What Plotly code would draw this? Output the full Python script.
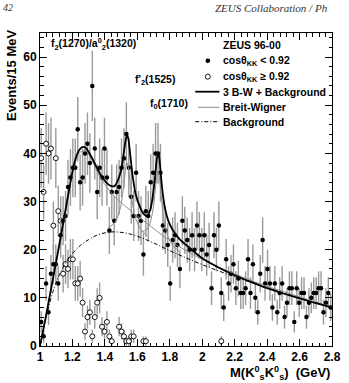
import numpy as np
import plotly.graph_objects as go

# ---------------- data ----------------
BIN_LO = 1.0
BIN_W = 0.015

# cos(theta_KK) < 0.92 : events per 15 MeV bin, bins starting at 1.0 GeV
filled_y = [5, 2, 13, 7, 15, 17, 17, 13, 23, 26,
            27, 33, 35, 37, 37, 45, 34, 35, 40, 42,
            38, 54, 41, 32, 37, 35, 41, 35, 24, 32,
            26, 32, 33, 37, 39, 44, 37, 31, 27, 36,
            27, 26, 19, 28, 27, 34, 36, 40, 40, 36,
            25, 24, 21, 13, 22, 23, 21, 16, 26, 24,
            22, 20, 23, 20, 25, 23, 20, 23, 19, 21,
            12, 23, 20, 25, 11, 8, 18, 13, 15, 17,
            12, 14, 11, 11, 12, 18, 11, 17, 10, 7,
            15, 22, 13, 16, 13, 8, 13, 7, 11, 13,
            6, 9, 12, 12, 5, 12, 9, 11, 11, 6,
            9, 10, 11, 11, 12, 12, 7, 9, 11, 8]
filled_err = [2.2, 1.4, 3.6, 2.6, 3.9, 4.1, 4.1, 3.6, 4.8, 5.1,
              5.2, 5.7, 5.9, 6.1, 6.1, 6.7, 5.8, 5.9, 6.3, 6.5,
              6.2, 7.3, 6.4, 5.7, 6.1, 5.9, 6.4, 5.9, 4.9, 5.7,
              5.1, 5.7, 5.7, 6.1, 6.2, 6.6, 6.1, 5.6, 5.2, 6.0,
              5.2, 5.1, 4.4, 5.3, 5.2, 5.8, 6.0, 6.3, 6.3, 6.0,
              5.0, 4.9, 4.6, 3.6, 4.7, 4.8, 4.6, 4.0, 5.1, 4.9,
              4.7, 4.5, 4.8, 4.5, 5.0, 4.8, 4.5, 4.8, 4.4, 4.6,
              3.5, 4.8, 4.5, 5.0, 3.3, 2.8, 4.2, 3.6, 3.9, 4.1,
              3.5, 3.7, 3.3, 3.3, 3.5, 4.2, 3.3, 4.1, 3.2, 2.6,
              3.9, 4.7, 3.6, 4.0, 3.6, 2.8, 3.6, 2.6, 3.3, 3.6,
              2.4, 3.0, 3.5, 3.5, 2.2, 3.5, 3.0, 3.3, 3.3, 2.4,
              3.0, 3.2, 3.3, 3.3, 3.5, 3.5, 2.6, 3.0, 3.3, 2.8]

# cos(theta_KK) >= 0.92 : non-empty bins only
open_x = [1.0075, 1.0225, 1.0375, 1.0525, 1.0675, 1.0825, 1.0975, 1.1125, 1.1275, 1.1425,
          1.1575, 1.1725, 1.1875, 1.2025, 1.2175, 1.2325, 1.2475, 1.2625, 1.2775, 1.2925,
          1.3075, 1.3225, 1.3375, 1.3525, 1.3675, 1.3825, 1.3975, 1.4125, 1.4275, 1.4425,
          1.4875, 1.5025, 1.5175, 1.5325, 1.5475, 1.5625, 1.5775, 1.6375, 1.6525, 2.1175]
open_y = [39, 32, 42, 40, 41, 25, 39, 28, 26, 15,
          17, 16, 18, 18, 13, 13, 14, 9, 3, 6,
          7, 2, 6, 9, 10, 4, 3, 5, 2, 1,
          4, 3, 2, 1, 1, 2, 2, 1, 1, 1]
open_err = [6.2, 5.7, 6.5, 6.3, 6.4, 5.0, 6.2, 5.3, 5.1, 3.9,
            4.1, 4.0, 4.2, 4.2, 3.6, 3.6, 3.7, 3.0, 1.7, 2.4,
            2.6, 1.4, 2.4, 3.0, 3.2, 2.0, 1.7, 2.2, 1.4, 1.0,
            2.0, 1.7, 1.4, 1.0, 1.0, 1.4, 1.4, 1.0, 1.0, 1.0]

# fit: 3 Breit-Wigner + background
total_x = [1.0, 1.02, 1.04, 1.06, 1.08, 1.10, 1.12, 1.14, 1.16, 1.18, 1.20, 1.22, 1.24, 1.26,
           1.28, 1.30, 1.32, 1.34, 1.36, 1.38, 1.40, 1.42, 1.44, 1.46, 1.48, 1.50, 1.51, 1.52,
           1.53, 1.537, 1.545, 1.555, 1.57, 1.59, 1.62, 1.64, 1.66, 1.68, 1.69, 1.70, 1.71,
           1.72, 1.728, 1.735, 1.745, 1.755, 1.77, 1.79, 1.82, 1.86, 1.90, 2.0, 2.1, 2.2,
           2.3, 2.4, 2.5, 2.6, 2.7, 2.8]
total_y = [0, 3.3, 6.8, 10.4, 14.0, 17.6, 21.3, 25.0, 28.8, 32.6, 36.2, 39.0, 40.6, 41.3,
           41.2, 40.3, 39.1, 37.7, 36.4, 35.2, 34.3, 33.6, 33.2, 33.2, 34.4, 36.5, 38.6, 41.0,
           43.2, 43.8, 43.0, 40.1, 35.6, 31.5, 28.6, 27.4, 27.0, 28.3, 29.9, 32.3, 35.4,
           38.8, 40.1, 39.2, 35.5, 32.1, 28.7, 26.1, 24.0, 22.2, 21.0, 18.2, 16.3, 14.7,
           13.3, 12.0, 10.9, 9.9, 8.9, 8.0]

bw1_x = [1.0, 1.04, 1.08, 1.12, 1.16, 1.20, 1.24, 1.28, 1.32, 1.36, 1.40, 1.44, 1.48, 1.52,
         1.56, 1.60, 1.65, 1.70, 1.75, 1.80, 1.85, 1.90, 2.0, 2.1, 2.2, 2.3, 2.4, 2.5, 2.6,
         2.7, 2.8]
bw1_y = [0, 6.7, 13.8, 20.7, 28.2, 35.8, 40.0, 40.6, 38.6, 35.7, 33.5, 31.8, 30.4, 29.2,
         28.1, 27.0, 25.7, 24.4, 23.1, 21.9, 20.8, 19.8, 18.0, 16.4, 15.0, 13.6, 12.4, 11.3,
         10.2, 9.1, 8.1]

bw2_x = [1.42, 1.46, 1.48, 1.50, 1.51, 1.52, 1.53, 1.537, 1.545, 1.555, 1.57, 1.59, 1.62, 1.66]
bw2_y = [24.5, 25.6, 26.9, 29.4, 31.7, 34.5, 37.3, 38.0, 37.0, 34.0, 29.7, 26.5, 24.3, 22.9]

bw3_x = [1.62, 1.66, 1.68, 1.69, 1.70, 1.71, 1.72, 1.728, 1.735, 1.745, 1.755, 1.77, 1.79,
         1.82, 1.86]
bw3_y = [23.6, 24.3, 25.7, 27.1, 29.05, 32.1, 35.2, 36.35, 35.35, 32.0, 28.5, 25.1, 22.6,
         20.8, 19.6]

bg_x = [1.0, 1.02, 1.04, 1.06, 1.08, 1.10, 1.12, 1.15, 1.20, 1.25, 1.30, 1.35, 1.40, 1.45,
        1.50, 1.55, 1.60, 1.70, 1.80, 1.90, 2.0, 2.1, 2.2, 2.3, 2.4, 2.5, 2.6, 2.7, 2.8]
bg_y = [0, 3.5, 6.5, 9.0, 11.3, 13.2, 14.8, 16.8, 19.2, 20.9, 22.1, 23.0, 23.5, 23.7,
        23.6, 23.3, 22.8, 21.4, 19.8, 18.3, 16.9, 15.6, 14.4, 13.2, 12.1, 11.0, 10.0, 9.0, 8.0]

x_tickvals = [1, 1.2, 1.4, 1.6, 1.8, 2, 2.2, 2.4, 2.6, 2.8]
x_ticktext = ["1", "1.2", "1.4", "1.6", "1.8", "2", "2.2", "2.4", "2.6", "2.8"]
y_tickvals = [0, 10, 20, 30, 40, 50, 60]
y_ticktext = ["0", "10", "20", "30", "40", "50", "60"]

legend_entries = ["cosθ<sub>KK</sub> < 0.92", "cosθ<sub>KK</sub> ≥ 0.92",
                  "3 B-W + Background", "Breit-Wigner", "Background"]

# ---------------- figure ----------------
W, H = 349, 383
ML, MR, MT, MB = 40, 8, 33, 37
PW, PH = W - ML - MR, H - MT - MB
FONT = "Liberation Sans, Arial, sans-serif"
ERRC = "#9a9a9a"


def P(px, py):
    return (px - ML) / PW, (H - MB - py) / PH


filled_x = BIN_LO + BIN_W * (np.arange(len(filled_y)) + 0.5)

fig = go.Figure()

fig.add_trace(go.Scatter(
    x=open_x, y=open_y, mode="markers",
    error_y=dict(type="data", array=open_err, color=ERRC, thickness=1.4, width=0),
    marker=dict(symbol="circle", size=5, color="white", line=dict(color="black", width=0.9)),
    showlegend=False))

fig.add_trace(go.Scatter(
    x=filled_x, y=filled_y, mode="markers",
    error_y=dict(type="data", array=filled_err, color=ERRC, thickness=1.4, width=0),
    marker=dict(symbol="circle", size=4.5, color="black"),
    showlegend=False))

fig.add_trace(go.Scatter(x=bg_x, y=bg_y, mode="lines",
                         line=dict(color="black", width=1, dash="4px,2px,1px,2px", shape="spline"),
                         showlegend=False))
for bx, by in [(bw1_x, bw1_y), (bw2_x, bw2_y), (bw3_x, bw3_y)]:
    fig.add_trace(go.Scatter(x=bx, y=by, mode="lines",
                             line=dict(color="#8c8c8c", width=1, shape="spline", smoothing=0.7),
                             showlegend=False))
fig.add_trace(go.Scatter(x=total_x, y=total_y, mode="lines",
                         line=dict(color="black", width=1.8, shape="spline", smoothing=0.6),
                         showlegend=False))

annotations = []
shapes = []


def text(px, py, s, size=10.5, xanchor="left", bold=True, **kw):
    x, y = P(px, py)
    d = dict(x=x, y=y, xref="paper", yref="paper", text=s, showarrow=False,
             xanchor=xanchor, yanchor="middle",
             font=dict(family=FONT, size=size, color="black",
                       weight="bold" if bold else "normal"))
    d.update(kw)
    annotations.append(d)


# legend
text(227, 45, "ZEUS 96-00")
rows_py = [60.7, 76.7, 91.7, 107.3, 121.7]
for s, py in zip(legend_entries, rows_py):
    text(227, py, s)

cx, cy = P(213, rows_py[0])
shapes.append(dict(type="circle", xref="paper", yref="paper", xsizemode="pixel", ysizemode="pixel",
                   xanchor=cx, yanchor=cy, x0=-2.3, x1=2.3, y0=-2.3, y1=2.3,
                   fillcolor="black", line=dict(color="black", width=0)))
cx, cy = P(213, rows_py[1])
shapes.append(dict(type="circle", xref="paper", yref="paper", xsizemode="pixel", ysizemode="pixel",
                   xanchor=cx, yanchor=cy, x0=-2.5, x1=2.5, y0=-2.5, y1=2.5,
                   fillcolor="white", line=dict(color="black", width=0.9)))
for (x0p, x1p, py, col, wd, dash) in [(200, 225, rows_py[2], "black", 1.8, "solid"),
                                     (203, 225, rows_py[3], "#8c8c8c", 1, "solid"),
                                     (200, 225, rows_py[4], "black", 1, "4px,2px,1px,2px")]:
    a0, b0 = P(x0p, py)
    a1, _ = P(x1p, py)
    shapes.append(dict(type="line", xref="paper", yref="paper", x0=a0, x1=a1, y0=b0, y1=b0,
                       line=dict(color=col, width=wd, dash=dash)))

# peak labels
text(95, 44, "f<sub>2</sub>(1270)/a<sup>0</sup><sub>2</sub>(1320)", xanchor="center")
text(159, 80, "f'<sub>2</sub>(1525)", xanchor="center")
text(173, 104, "f<sub>0</sub>(1710)", xanchor="center")

# axis titles
text(341, 373, "M(K<sup>0</sup><sub>s</sub>K<sup>0</sup><sub>s</sub>)\u00a0\u00a0(GeV)", size=13,
     xanchor="right")
xa, ya = P(10, 75)
annotations.append(dict(x=xa, y=ya, xref="paper", yref="paper", text="Events/15 MeV",
                        showarrow=False, textangle=-90, xanchor="center", yanchor="middle",
                        font=dict(family=FONT, size=13, color="black", weight="bold")))

# page header
xa, ya = P(0, 0)
annotations.append(dict(x=xa, y=ya, xref="paper", yref="paper", text="<i>42</i>",
                        showarrow=False, xanchor="left", yanchor="top",
                        font=dict(family="Liberation Serif, serif", size=10, color="#333")))
xa, ya = P(218, 0)
annotations.append(dict(x=xa, y=ya, xref="paper", yref="paper",
                        text="<i>ZEUS Collaboration / Ph</i>",
                        showarrow=False, xanchor="left", yanchor="top",
                        font=dict(family="Liberation Serif, serif", size=11, color="#333")))

axis_common = dict(showline=True, linecolor="black", linewidth=1, mirror="allticks",
                   ticks="inside", tickcolor="black", tickwidth=1, showgrid=False,
                   zeroline=False, ticklabeloverflow="allow",
                   tickfont=dict(family=FONT, size=12, color="black", weight="bold"))

fig.update_xaxes(range=[1, 2.8], tickvals=x_tickvals, ticktext=x_ticktext, ticklen=7,
                 minor=dict(ticks="inside", dtick=0.04, tick0=1, ticklen=3.5, tickcolor="black",
                            showgrid=False),
                 **axis_common)
fig.update_yaxes(range=[0, 65], tickvals=y_tickvals, ticktext=y_ticktext, ticklen=7,
                 minor=dict(ticks="inside", dtick=2, tick0=0, ticklen=3.5, tickcolor="black",
                            showgrid=False),
                 **axis_common)

fig.update_layout(width=W, height=H, margin=dict(l=ML, r=MR, t=MT, b=MB),
                  paper_bgcolor="white", plot_bgcolor="white",
                  annotations=annotations, shapes=shapes, showlegend=False)

fig.write_html("out.html")
